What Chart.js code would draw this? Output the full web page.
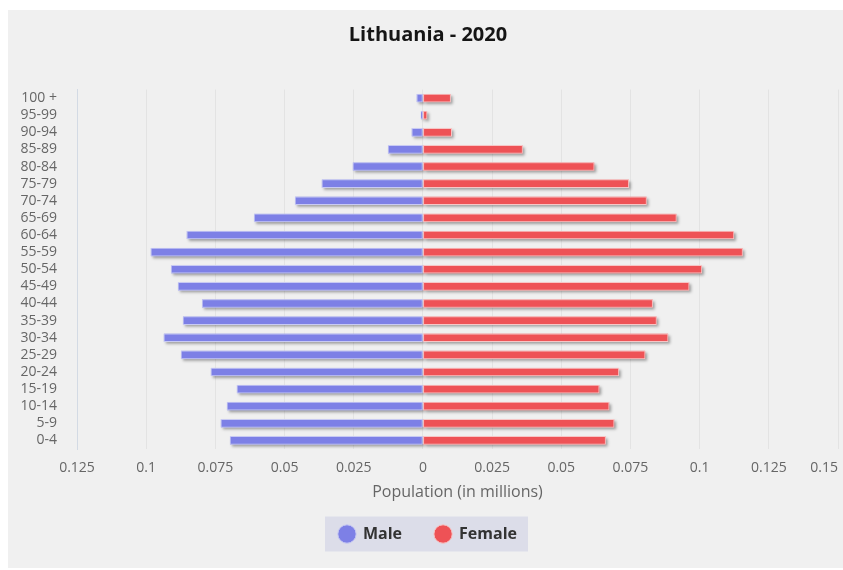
<!DOCTYPE html>
<html>
<head>
<meta charset="utf-8">
<script src="https://cdn.jsdelivr.net/npm/chart.js@4"></script>
<style>
  html, body { margin: 0; padding: 0; background: #fff; overflow: hidden; }
  #wrap { position: absolute; left: 8px; top: 10px; width: 835px; height: 558px; background: #f0f0f0; }
</style>
</head>
<body>
<div id="wrap"><canvas id="myChart" width="835" height="558"></canvas></div>
<script>
const ageGroups = ['100 +', '95-99', '90-94', '85-89', '80-84', '75-79', '70-74', '65-69', '60-64', '55-59',
                   '50-54', '45-49', '40-44', '35-39', '30-34', '25-29', '20-24', '15-19', '10-14', '5-9', '0-4'];
const male = [0.0022, 0.0007, 0.004, 0.0126, 0.0253, 0.0365, 0.0462, 0.061, 0.0853, 0.0983,
              0.091, 0.0885, 0.0798, 0.0867, 0.0936, 0.0874, 0.0766, 0.0672, 0.0708, 0.073, 0.0697];
const female = [0.010, 0.0015, 0.0104, 0.036, 0.0619, 0.0744, 0.0808, 0.0916, 0.1124, 0.1155,
                0.1008, 0.0962, 0.083, 0.0844, 0.0886, 0.0803, 0.0708, 0.0637, 0.0673, 0.0691, 0.066];
const xMin = -0.125;
const xMax = 0.15;
const xStep = 0.025;

Chart.defaults.font.family = "'Open Sans', sans-serif";

// grey drop shadow under each bar, taken from the bar elements themselves
const barShadow = {
    id: 'barShadow',
    beforeDatasetsDraw(chart) {
        const ctx = chart.ctx;
        ctx.save();
        ctx.shadowColor = 'rgba(0,0,0,0.35)';
        ctx.shadowBlur = 3;
        ctx.shadowOffsetX = 2;
        ctx.shadowOffsetY = 2;
        chart.data.datasets.forEach((ds, i) => {
            ctx.fillStyle = ds.backgroundColor;
            chart.getDatasetMeta(i).data.forEach(bar => {
                const p = bar.getProps(['x', 'y', 'base', 'height'], true);
                ctx.fillRect(Math.min(p.x, p.base), p.y - p.height / 2, Math.abs(p.x - p.base), p.height);
            });
        });
        ctx.restore();
    }
};

// lavender box behind the legend
const legendBox = {
    id: 'legendBox',
    beforeDraw(chart) {
        const hb = chart.legend.legendHitBoxes;
        if (!hb || !hb.length) return;
        const left = hb[0].left - 14;
        const right = hb[hb.length - 1].left + hb[hb.length - 1].width + 11;
        const cy = hb[0].top + hb[0].height / 2;
        const ctx = chart.ctx;
        ctx.save();
        ctx.fillStyle = '#dcdde9';
        ctx.fillRect(left, cy - 17.5, right - left, 35);
        ctx.restore();
    }
};

// last x tick sits flush with the right edge
const lastTick = {
    id: 'lastTick',
    afterDraw(chart) {
        const x = chart.scales.x;
        const ctx = chart.ctx;
        ctx.save();
        ctx.font = "14px 'Open Sans', sans-serif";
        ctx.fillStyle = '#666';
        ctx.textAlign = 'right';
        ctx.textBaseline = 'middle';
        ctx.fillText(String(xMax), x.getPixelForValue(xMax), x.top + 11 + 8.4);
        ctx.restore();
    }
};

const ctx = document.getElementById('myChart').getContext('2d');
const myChart = new Chart(ctx, {
    type: 'bar',
    data: {
        labels: ageGroups,
        datasets: [{
            label: 'Male',
            data: male.map(v => -v),
            backgroundColor: '#7d80e6',
            borderColor: '#c8caf3',
            borderWidth: 1,
            borderSkipped: false,
            barThickness: 8
        }, {
            label: 'Female',
            data: female,
            backgroundColor: '#ee5256',
            borderColor: '#f7c6c6',
            borderWidth: 1,
            borderSkipped: false,
            barThickness: 8
        }]
    },
    options: {
        indexAxis: 'y',
        responsive: false,
        animation: false,
        layout: { padding: { left: 10, right: 5, top: 0, bottom: 16 } },
        plugins: {
            title: {
                display: true,
                text: 'Lithuania - 2020',
                color: '#151515',
                font: { size: 20, weight: 'bold' },
                padding: { top: 13, bottom: 42.5 }
            },
            legend: {
                position: 'bottom',
                labels: {
                    usePointStyle: true,
                    pointStyle: 'circle',
                    boxWidth: 16,
                    boxHeight: 13,
                    padding: 33,
                    color: '#333',
                    font: { size: 16, weight: 'bold' }
                }
            },
            tooltip: { enabled: false }
        },
        scales: {
            x: {
                stacked: true,
                min: xMin,
                max: xMax,
                ticks: {
                    stepSize: xStep,
                    padding: 11,
                    color: '#666',
                    font: { size: 14 },
                    maxRotation: 0,
                    callback: v => Math.abs(v - xMax) < 1e-9 ? '' : String(+Math.abs(v).toFixed(3))
                },
                grid: { color: 'rgba(0,0,0,0.05)', drawTicks: false },
                border: { display: false },
                title: {
                    display: true,
                    text: 'Population (in millions)',
                    color: '#666',
                    font: { size: 16 },
                    padding: { top: 9, bottom: -9 }
                },
                afterFit(scale) {
                    scale.paddingRight = 0;
                    scale.height = 44;
                }
            },
            y: {
                stacked: true,
                ticks: { autoSkip: false, padding: 20, color: '#666', font: { size: 14 } },
                grid: { display: false, drawTicks: false },
                border: { display: true, color: '#d3dae4', width: 1 },
                afterFit(scale) { scale.width = 59; }
            }
        }
    },
    plugins: [barShadow, legendBox, lastTick]
});
</script>
</body>
</html>
